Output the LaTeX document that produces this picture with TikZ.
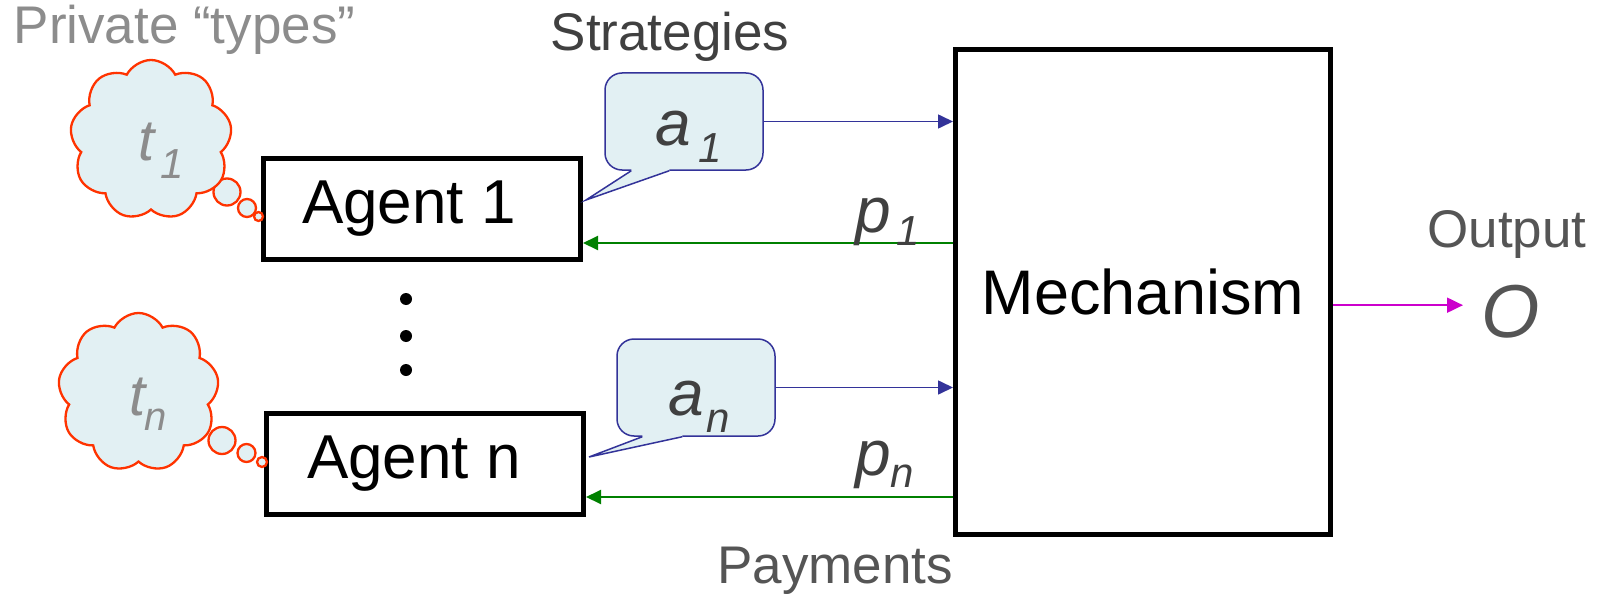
\documentclass[tikz,border=0pt]{standalone}
\usepackage{fontspec}
\setmainfont{Liberation Sans}
\usetikzlibrary{shapes.symbols,arrows.meta,calc}

\definecolor{cloudred}{RGB}{255,51,0}
\definecolor{bubblefill}{RGB}{226,240,243}
\definecolor{stratblue}{RGB}{51,51,153}
\definecolor{paygreen}{RGB}{0,128,0}
\definecolor{outmag}{RGB}{204,0,204}
\definecolor{labelgray}{RGB}{85,85,85}
\definecolor{typegray}{RGB}{140,140,140}
\definecolor{symgray}{RGB}{64,64,64}

\newcommand\fsz[1]{\fontsize{#1}{#1}\selectfont}

\tikzset{
  blockbox/.style={draw=black, line width=5pt, inner sep=0pt},
  agentbox/.style={blockbox, minimum width=317pt, minimum height=101pt, font=\fsz{62}},
  thinkcloud/.style={cloud, cloud puffs=9, cloud puff arc=125, cloud ignores aspect,
    draw=cloudred, fill=bubblefill, line width=2.3pt, inner sep=0pt},
  thinkdot/.style={circle, draw=cloudred, fill=bubblefill, line width=2.3pt, inner sep=0pt},
  bubble/.style={draw=stratblue, fill=bubblefill, line width=1.5pt, rounded corners=17pt,
    inner sep=0pt, minimum width=158pt, minimum height=97pt},
  symtext/.style={font=\fsz{64}\itshape, text=symgray, inner sep=0pt},
  typetext/.style={font=\fsz{58}\itshape, text=typegray, inner sep=0pt},
  caption/.style={font=\fsz{53}, text=labelgray, inner sep=0pt},
  ellipsisdot/.style={circle, fill=black, minimum size=12pt, inner sep=0pt},
  stratarrow/.style={draw=stratblue, line width=1.6pt, -{Triangle[length=15pt,width=14pt]}},
  payarrow/.style={draw=paygreen, line width=2pt, -{Triangle[length=15pt,width=14pt]}},
  outarrow/.style={draw=outmag, line width=2pt, -{Triangle[length=16pt,width=15pt]}},
}

\begin{document}
\begin{tikzpicture}[x=1pt,y=-1pt]
\useasboundingbox (0,0) rectangle (1598,594);

% mechanism and agents
\node[blockbox, minimum width=375pt, minimum height=485pt, font=\fsz{63}] (mech) at (1143,292) {Mechanism};
\node[agentbox] (ag1) at (422,209) {Agent 1\kern26pt};
\node[agentbox] (agn) at (425,463.5) {Agent n\kern22pt};

% vertical ellipsis between the agents
\node[ellipsisdot] (d1) at (406,299) {};
\node[ellipsisdot] (d2) at (406,336) {};
\node[ellipsisdot] (d3) at (406,370) {};

% thought clouds holding the private types
\node[thinkdot, minimum size=27pt] (c1a) at (227,192) {};
\node[thinkdot, minimum size=18pt] (c1b) at (247,208) {};
\node[thinkdot, minimum size=9pt] (c1c) at (258.5,216.5) {};
\node[thinkcloud, minimum width=162pt, minimum height=160pt] (c1) at (151,140) {};
\node[typetext, anchor=base west] (t1) at (138,160) {t\hspace{6pt}\raisebox{-18pt}{\fsz{42}1}};

\node[thinkdot, minimum size=27pt] (cna) at (222,440.5) {};
\node[thinkdot, minimum size=18pt] (cnb) at (246.5,453) {};
\node[thinkdot, minimum size=10pt] (cnc) at (262,462) {};
\node[thinkcloud, minimum width=161pt, minimum height=159pt] (cn) at (138.5,392.5) {};
\node[typetext, anchor=base west] (tn) at (129,415) {t\hspace{-1pt}\raisebox{-15pt}{\fsz{40}n}};

% speech bubbles with the strategies
\node[bubble] (a1) at (684,121.5) {};
\coordinate (a1l) at ($(a1.south west)+(27,0)$);
\coordinate (a1r) at ($(a1.south west)+(65,0)$);
\coordinate (a1tip) at ($(ag1.east)+(3,-9)$);
\fill[bubblefill] ($(a1l)+(0,-1.6)$) -- (a1l) -- (a1tip) -- (a1r) -- ($(a1r)+(0,-1.6)$) -- cycle;
\draw[stratblue, line width=1.5pt, line join=miter] (a1l) -- (a1tip) -- (a1r);
\node[symtext, anchor=base west] (a1t) at (655,145) {a\hspace{8pt}\raisebox{-17pt}{\fsz{42}1}};

\node[bubble] (an) at (696,387.5) {};
\coordinate (anl) at ($(an.south west)+(26,0)$);
\coordinate (anr) at ($(an.south west)+(66,0)$);
\coordinate (antip) at ($(agn.east)+(3,-6.5)$);
\fill[bubblefill] ($(anl)+(0,-1.6)$) -- (anl) -- (antip) -- (anr) -- ($(anr)+(0,-1.6)$) -- cycle;
\draw[stratblue, line width=1.5pt, line join=miter] (anl) -- (antip) -- (anr);
\node[symtext, anchor=base west] (ant) at (668,415) {a\hspace{3pt}\raisebox{-17pt}{\fsz{42}n}};

% strategies go in
\draw[stratarrow] (a1.east) -- (a1.east -| mech.west);
\draw[stratarrow] (an.east) -- (an.east -| mech.west);

% payments come back
\coordinate (g1) at ($(ag1.east)+(0,34)$);
\coordinate (gn) at ($(agn.east)+(0,33.5)$);
\draw[payarrow] (g1 -| mech.west) -- (g1);
\draw[payarrow] (gn -| mech.west) -- (gn);
\node[symtext, anchor=base west] (p1) at (855,232) {p\hspace{6pt}\raisebox{-13pt}{\fsz{42}1}};
\node[symtext, anchor=base west] (pn) at (855,475) {p\hspace{0pt}\raisebox{-12pt}{\fsz{42}n}};

% output
\node[font=\fsz{75}\itshape, text=labelgray, inner sep=0pt, anchor=base west] (O) at (1481,337) {O};
\draw[outarrow] ([yshift=6pt]O.west -| mech.east) -- ([xshift=-18pt,yshift=6pt]O.west);

% captions
\node[caption, text=typegray, anchor=base] (privlbl) at (184.5,44) {Private “types”};
\node[caption, text=symgray, anchor=base] (stratlbl) at (670,51) {Strategies};
\node[caption, anchor=base] (paylbl) at (835,583) {Payments};
\node[caption, anchor=base] (outlbl) at (1507,247) {Output};
\end{tikzpicture}
\end{document}
